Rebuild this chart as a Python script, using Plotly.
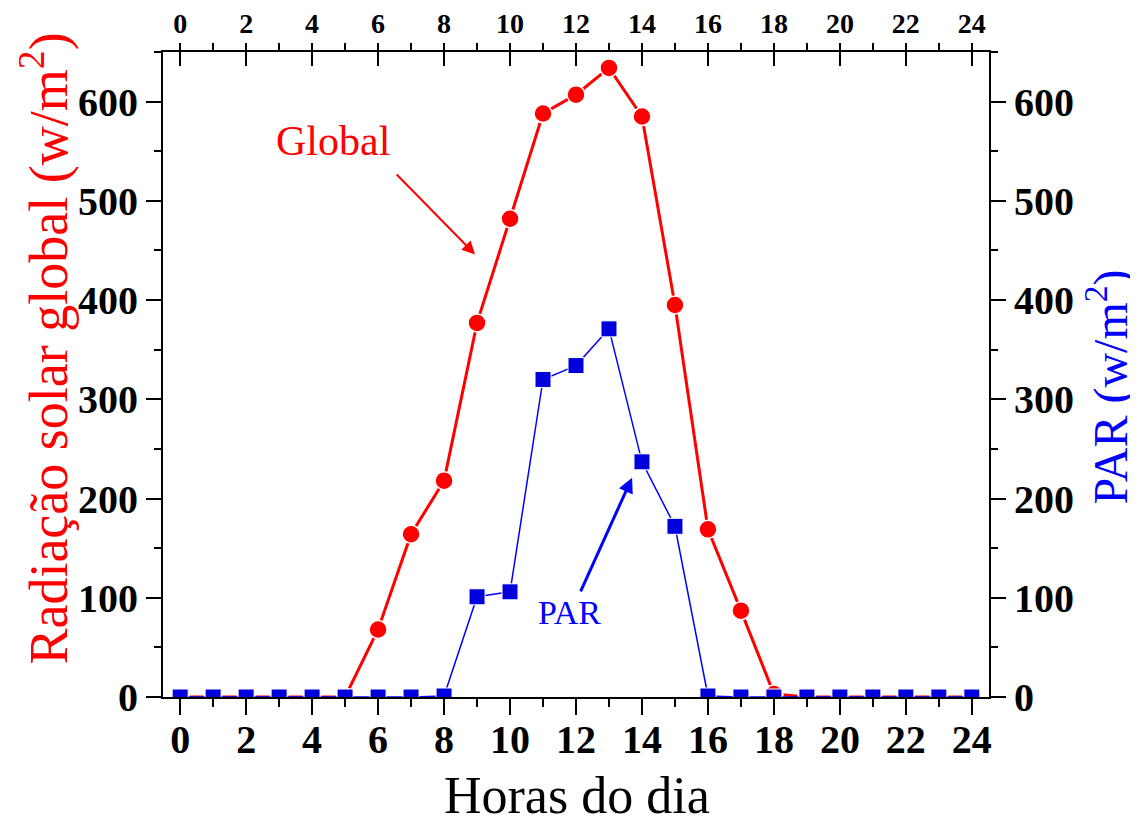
import plotly.graph_objects as go

hours = list(range(0, 25))
global_rad = [0, 0, 0, 0, 0, 0, 68, 164, 218, 377, 482, 588, 607, 634, 585, 395, 169, 87, 3, 0, 0, 0, 0, 0, 0]
par = [0, 0, 0, 0, 0, 0, 0, 0, 1, 101, 106, 320, 334, 371, 237, 172, 1, 0, 0, 0, 0, 0, 0, 0, 0]

x_ticks_bottom = list(range(0, 25, 2))
y_ticks = list(range(0, 601, 100))

SERIF = "Liberation Serif"
tickfont_big = dict(family=SERIF, size=40, color="black", weight="bold")
tickfont_top = dict(family=SERIF, size=28, color="black", weight="bold")

fig = go.Figure()
fig.add_trace(go.Scatter(
    x=hours, y=global_rad, mode="lines+markers", name="Global",
    line=dict(color="#FF0000", width=3),
    marker=dict(symbol="circle", size=18, color="#FF0000", line=dict(color="white", width=1.5)),
    xaxis="x", yaxis="y", showlegend=False,
))
fig.add_trace(go.Scatter(
    x=hours, y=par, mode="lines+markers", name="PAR",
    line=dict(color="#0000FF", width=1.5),
    marker=dict(symbol="square", size=16, color="#0000DD", line=dict(color="white", width=1)),
    xaxis="x2", yaxis="y2", showlegend=False,
))

xr = [-0.52, 24.52]
yr = [0, 650]

common = dict(showline=True, linewidth=2, linecolor="black", showgrid=False,
              zeroline=False, automargin=False, tickwidth=2, tickcolor="black")

# page body has an 8px margin: figure is sized/offset to fit the 1138x821 window
fig.update_layout(
    width=1130, height=813,
    margin=dict(l=155, r=149, t=44, b=124, autoexpand=False),
    paper_bgcolor="white", plot_bgcolor="white",
    xaxis=dict(
        range=xr, tickmode="array", tickvals=x_ticks_bottom,
        ticks="outside", ticklen=16, ticklabelstandoff=-10,
        minor=dict(ticks="outside", ticklen=8, tickwidth=2, tickcolor="black", dtick=1, tick0=0),
        tickfont=tickfont_big, **common,
    ),
    xaxis2=dict(
        range=xr, overlaying="x", side="top", anchor="y2",
        tickmode="array", tickvals=x_ticks_bottom,
        ticks="inside", ticklen=14, ticklabelstandoff=6,
        minor=dict(ticks="outside", ticklen=7, tickwidth=2, tickcolor="black", dtick=1, tick0=0),
        tickfont=tickfont_top, **common,
    ),
    yaxis=dict(
        range=yr, tickmode="array", tickvals=y_ticks,
        ticks="outside", ticklen=15,
        minor=dict(ticks="outside", ticklen=7, tickwidth=2, tickcolor="black", dtick=50, tick0=0),
        tickfont=tickfont_big, **common,
    ),
    yaxis2=dict(
        range=yr, overlaying="y", side="right", anchor="x2",
        tickmode="array", tickvals=y_ticks,
        ticks="outside", ticklen=15,
        minor=dict(ticks="outside", ticklen=7, tickwidth=2, tickcolor="black", dtick=50, tick0=0),
        tickfont=tickfont_big, **common,
    ),
)

# Axis titles
fig.add_annotation(x=0.501, y=-0.152, xref="paper", yref="paper", text="Horas do dia",
                   showarrow=False, xanchor="center", yanchor="middle",
                   font=dict(family=SERIF, size=52, color="black"))
fig.add_annotation(x=-0.143, y=0.54, xref="paper", yref="paper",
                   text="Radiação solar global (w/m<sup>2</sup>)", textangle=-90,
                   showarrow=False, xanchor="center", yanchor="middle",
                   font=dict(family=SERIF, size=54, color="#FF0000"))
fig.add_annotation(x=1.143, y=0.48, xref="paper", yref="paper",
                   text="PAR (w/m<sup>2</sup>)", textangle=-90,
                   showarrow=False, xanchor="center", yanchor="middle",
                   font=dict(family=SERIF, size=48, color="#0000FF"))

# Text labels and arrows
fig.add_annotation(x=4.64, y=560, xref="x", yref="y", text="Global", showarrow=False,
                   font=dict(family=SERIF, size=42, color="#FF0000"))
fig.add_annotation(x=8.94, y=446, xref="x", yref="y", ax=6.52, ay=528, axref="x", ayref="y",
                   text="", showarrow=True, arrowhead=2, arrowsize=1.3, arrowwidth=2,
                   arrowcolor="#FF0000")
fig.add_annotation(x=11.79, y=85, xref="x", yref="y", text="PAR", showarrow=False,
                   font=dict(family=SERIF, size=34, color="#0000FF"))
fig.add_annotation(x=13.7, y=221, xref="x", yref="y", ax=12.12, ay=105, axref="x", ayref="y",
                   text="", showarrow=True, arrowhead=2, arrowsize=1, arrowwidth=3,
                   arrowcolor="#0000FF")

fig.write_html("out.html")
